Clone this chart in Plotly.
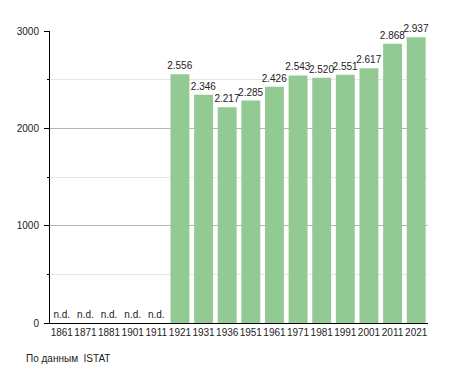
import plotly.graph_objects as go

years = ["1861", "1871", "1881", "1901", "1911", "1921", "1931", "1936",
         "1951", "1961", "1971", "1981", "1991", "2001", "2011", "2021"]
population = [None, None, None, None, None, 2556, 2346, 2217,
              2285, 2426, 2543, 2520, 2551, 2617, 2868, 2937]
y_ticks = [0, 1000, 2000, 3000]
source_note = "По данным  ISTAT"


def fmt(v):
    if v is None:
        return "n.d."
    return f"{v:,}".replace(",", ".")


values = [0 if v is None else v for v in population]
labels = [fmt(v) for v in population]

# page body has an 8px margin, so the figure is 8px smaller and offset
W, H = 447, 365
L, R, T, B = 42, 27, 23, 50
pw, ph = W - L - R, H - T - B

fig = go.Figure()
fig.add_trace(go.Bar(
    x=years, y=values, text=labels, textposition="outside",
    textfont=dict(size=10, color="#222"),
    marker=dict(color="#93C993", line=dict(width=0)),
    cliponaxis=False, hoverinfo="skip",
))

fig.update_layout(
    width=W, height=H,
    margin=dict(l=L, r=R, t=T, b=B, autoexpand=False),
    paper_bgcolor="white", plot_bgcolor="white",
    font=dict(family="Liberation Sans, Arial, sans-serif", size=10, color="#222"),
    bargap=0.2, showlegend=False,
    uniformtext=dict(minsize=10, mode="show"),
    annotations=[dict(text=source_note, xref="paper", yref="paper",
                      x=(16 - L) / pw, y=(H - B - 350) / ph,
                      showarrow=False, xanchor="left", yanchor="middle",
                      font=dict(size=10, color="#222"))],
)

fig.update_xaxes(
    type="category", showline=True, linecolor="black", linewidth=1,
    ticks="", tickangle=0, tickfont=dict(size=10, color="#222"), showgrid=False,
    automargin=False,
)
fig.update_yaxes(
    range=[0, 3000], tickvals=y_ticks, showline=True, linecolor="black",
    linewidth=1, ticks="outside", ticklen=5, tickcolor="black",
    gridcolor="#b4b4b4", gridwidth=1, zeroline=False, automargin=False,
    tickfont=dict(size=10, color="#222"), ticklabelstandoff=3,
    minor=dict(dtick=500, tick0=0, ticks="outside", ticklen=2, tickcolor="black",
               showgrid=True, gridcolor="#e6e6e6"),
)

fig.write_html("out.html")
